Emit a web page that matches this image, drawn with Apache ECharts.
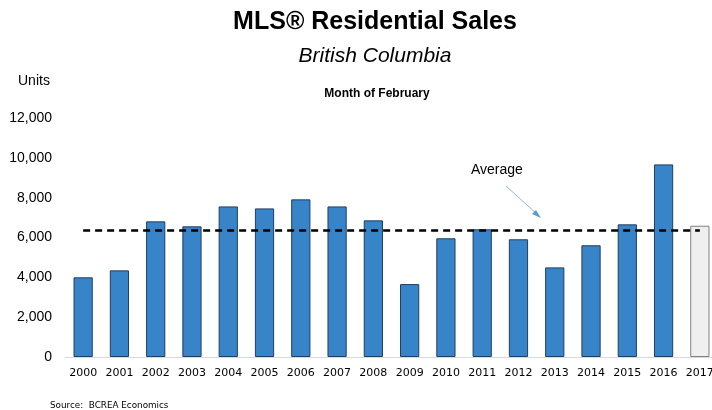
<!DOCTYPE html>
<html>
<head>
<meta charset="utf-8">
<script src="https://cdn.jsdelivr.net/npm/echarts@6/dist/echarts.min.js"></script>
<style>
  html, body { margin: 0; padding: 0; background: #fff; }
  #chart { width: 712px; height: 410px; }
</style>
</head>
<body>
<div id="chart"></div>
<script>
var years = ['2000', '2001', '2002', '2003', '2004', '2005', '2006', '2007', '2008',
  '2009', '2010', '2011', '2012', '2013', '2014', '2015', '2016', '2017']
var sales = [4000, 4350, 6810, 6560, 7560, 7460, 7915, 7560, 6860,
  3660, 5960, 6410, 5910, 4500, 5610, 6660, 9670, 6590]
var average = 6340
var yTicks = [0, 2000, 4000, 6000, 8000, 10000, 12000]

var myChart = echarts.init(document.getElementById('chart'))

// last year is the partial/current one, drawn in grey
var barData = sales.map(function (v, i) {
  if (i === sales.length - 1) {
    return { value: v, itemStyle: { color: '#efefef', borderColor: '#808080' } }
  }
  return v
})

var option = {
  animation: false,
  textStyle: { fontFamily: 'Open Sans' },
  title: [
    {
      text: 'MLS® Residential Sales',
      left: 370, top: 5, textAlign: 'center',
      textStyle: { fontSize: 25, fontWeight: 'bold', color: '#000', fontFamily: 'Liberation Sans' }
    },
    {
      text: 'British Columbia',
      left: 370, top: 41, textAlign: 'center',
      textStyle: { fontSize: 21, fontStyle: 'italic', fontWeight: 'normal', color: '#000', fontFamily: 'Liberation Sans' }
    },
    {
      text: 'Month of February',
      left: 372, top: 83, textAlign: 'center',
      textStyle: { fontSize: 12, fontWeight: 'bold', color: '#000', fontFamily: 'Liberation Sans' }
    },
    {
      text: 'Units',
      left: 13, top: 69,
      textStyle: { fontSize: 14, fontWeight: 'normal', color: '#000', fontFamily: 'Liberation Sans' }
    },
    {
      text: 'Source:  BCREA Economics',
      left: 50, top: 401, padding: 0,
      textStyle: { fontSize: 8.8, lineHeight: 10, fontWeight: 'normal', color: '#000', fontFamily: 'DejaVu Sans' }
    }
  ],
  grid: {
    left: 65,
    width: 653,
    top: 118,
    bottom: 53,
    containLabel: false,
    outerBoundsMode: 'none'
  },
  xAxis: {
    type: 'category',
    data: years,
    axisTick: { show: false },
    axisLine: { show: true, lineStyle: { color: '#d9d9d9', width: 1 } },
    axisLabel: {
      interval: 0,
      margin: 11,
      fontSize: 11,
      color: '#000',
      fontFamily: 'DejaVu Sans'
    }
  },
  yAxis: {
    type: 'value',
    min: yTicks[0],
    max: yTicks[yTicks.length - 1],
    interval: yTicks[1] - yTicks[0],
    splitLine: { show: false },
    axisLine: { show: false },
    axisTick: { show: false },
    axisLabel: {
      margin: 13,
      fontSize: 14,
      color: '#000',
      fontFamily: 'Liberation Sans',
      formatter: function (v) { return v.toLocaleString('en-US') }
    }
  },
  series: [{
    type: 'bar',
    data: barData,
    barWidth: '53%',
    itemStyle: {
      color: '#3884c9',
      borderColor: '#1f3f60',
      borderWidth: 1
    },
    markLine: {
      silent: true,
      symbol: ['none', 'none'],
      label: { show: false },
      lineStyle: { color: '#000', type: [7, 5], width: 2.5 },
      data: [[
        { coord: [years[0], average] },
        { coord: [years[years.length - 1], average] }
      ]]
    }
  }],
  graphic: [
    {
      type: 'text',
      left: 471, top: 163,
      style: { text: 'Average', fontSize: 14, fill: '#000', fontFamily: 'Liberation Sans' }
    },
    {
      type: 'line',
      shape: { x1: 506, y1: 186, x2: 538, y2: 215 },
      style: { stroke: '#8db4e2', lineWidth: 1 }
    },
    {
      type: 'polygon',
      shape: { points: [[541, 218], [532, 214], [536, 210]] },
      style: { fill: '#5b9bd5' }
    }
  ]
}

myChart.setOption(option)
</script>
</body>
</html>
